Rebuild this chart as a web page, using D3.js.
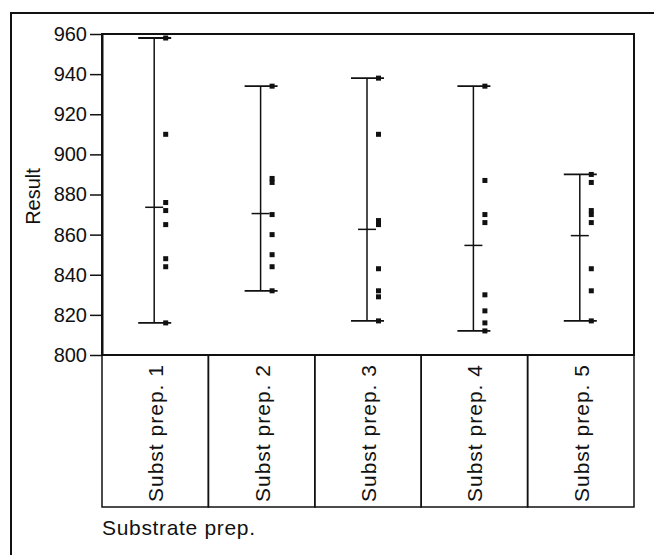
<!DOCTYPE html>
<html>
<head>
<meta charset="utf-8">
<script src="https://cdn.jsdelivr.net/npm/d3@7"></script>
<style>
  body { margin: 0; background: #fff; }
  svg { display: block; font-family: "Liberation Sans", Arial, Helvetica, sans-serif; }
</style>
</head>
<body>
<svg id="chart"></svg>
<script>
  // values
  const categories = ["Subst prep. 1", "Subst prep. 2", "Subst prep. 3", "Subst prep. 4", "Subst prep. 5"];
  const prep1 = [958, 910, 876, 872, 865, 848, 844, 816];
  const prep2 = [934, 888, 886, 870, 860, 850, 844, 832];
  const prep3 = [938, 910, 867, 865, 843, 832, 829, 817];
  const prep4 = [934, 887, 870, 866, 830, 822, 816, 812];
  const prep5 = [890, 886, 872, 870, 866, 843, 832, 817];
  const yTicks = [800, 820, 840, 860, 880, 900, 920, 940, 960];
  const yLabel = "Result";
  const xLabel = "Substrate prep.";

  const groups = categories.map((name, i) => ({
    name,
    values: [prep1, prep2, prep3, prep4, prep5][i],
  }));

  const size = { width: 654, height: 555 };
  const margin = { top: 34, left: 102, right: 20, bottom: 200 };
  const plotBottom = 355;
  const tableBottom = 507;

  const svg = d3.select("#chart").attr("width", size.width).attr("height", size.height);

  // outer frame of the figure
  svg
    .append("rect")
    .attr("x", 11)
    .attr("y", 13)
    .attr("width", 660)
    .attr("height", 600)
    .attr("fill", "none")
    .attr("stroke", "#111")
    .attr("stroke-width", 2);

  const x = d3
    .scaleBand()
    .domain(categories)
    .range([margin.left, size.width - margin.right])
    .padding(0);

  const y = d3.scaleLinear().domain([800, 960]).range([plotBottom, margin.top]);

  // plot box
  svg
    .append("rect")
    .attr("x", margin.left)
    .attr("y", margin.top)
    .attr("width", x.range()[1] - margin.left)
    .attr("height", plotBottom - margin.top)
    .attr("fill", "none")
    .attr("stroke", "#111")
    .attr("stroke-width", 2);

  // y axis
  const yAxis = svg
    .append("g")
    .attr("transform", `translate(${margin.left}, 0)`)
    .call(d3.axisLeft(y).tickValues(yTicks).tickSize(12).tickPadding(3).tickSizeOuter(0));
  yAxis.select(".domain").attr("stroke", "#111").attr("stroke-width", 2);
  yAxis.selectAll(".tick line").attr("stroke", "#111").attr("stroke-width", 1.5);
  yAxis
    .selectAll(".tick text")
    .style("font-size", "20px")
    .style("font-family", "'Liberation Sans', Arial, sans-serif")
    .attr("fill", "#111");

  svg
    .append("text")
    .text(yLabel)
    .attr("transform", `translate(40, ${(margin.top + plotBottom) / 2 + 2}) rotate(-90)`)
    .attr("text-anchor", "middle")
    .style("font-size", "20px")
    .attr("fill", "#111");

  // category table under the plot
  const table = svg.append("g");
  table
    .selectAll("rect")
    .data(categories)
    .join("rect")
    .attr("x", (d) => x(d))
    .attr("y", plotBottom)
    .attr("width", x.bandwidth())
    .attr("height", tableBottom - plotBottom)
    .attr("fill", "none")
    .attr("stroke", "#111")
    .attr("stroke-width", 1.5);

  table
    .selectAll("text")
    .data(categories)
    .join("text")
    .text((d) => d)
    .attr("transform", (d) => `translate(${x(d) + x.bandwidth() / 2 + 8}, 502) rotate(-90)`)
    .attr("textLength", 137)
    .attr("lengthAdjust", "spacing")
    .style("font-size", "21px")
    .attr("fill", "#111");

  svg
    .append("text")
    .text(xLabel)
    .attr("x", margin.left)
    .attr("y", 535)
    .attr("textLength", 153)
    .attr("lengthAdjust", "spacing")
    .style("font-size", "21px")
    .attr("fill", "#111");

  // range bars with mean tick and points
  const marks = svg
    .append("g")
    .selectAll("g")
    .data(groups)
    .join("g")
    .attr("transform", (d) => `translate(${x(d.name) + x.bandwidth() / 2 - 1}, 0)`);

  marks
    .append("line")
    .attr("x1", 0)
    .attr("x2", 0)
    .attr("y1", (d) => y(d3.max(d.values)))
    .attr("y2", (d) => y(d3.min(d.values)))
    .attr("stroke", "#111")
    .attr("stroke-width", 1.5);

  [d3.max, d3.min].forEach((fn) => {
    marks
      .append("line")
      .attr("x1", -16)
      .attr("x2", 17)
      .attr("y1", (d) => y(fn(d.values)))
      .attr("y2", (d) => y(fn(d.values)))
      .attr("stroke", "#111")
      .attr("stroke-width", 1.8);
  });

  marks
    .append("line")
    .attr("x1", -9)
    .attr("x2", 9)
    .attr("y1", (d) => y(d3.mean(d.values)))
    .attr("y2", (d) => y(d3.mean(d.values)))
    .attr("stroke", "#111")
    .attr("stroke-width", 1.5);

  marks
    .selectAll("rect")
    .data((d) => d.values)
    .join("rect")
    .attr("x", 9)
    .attr("y", (v) => y(v) - 2.5)
    .attr("width", 5)
    .attr("height", 5)
    .attr("fill", "#111");
</script>
</body>
</html>
